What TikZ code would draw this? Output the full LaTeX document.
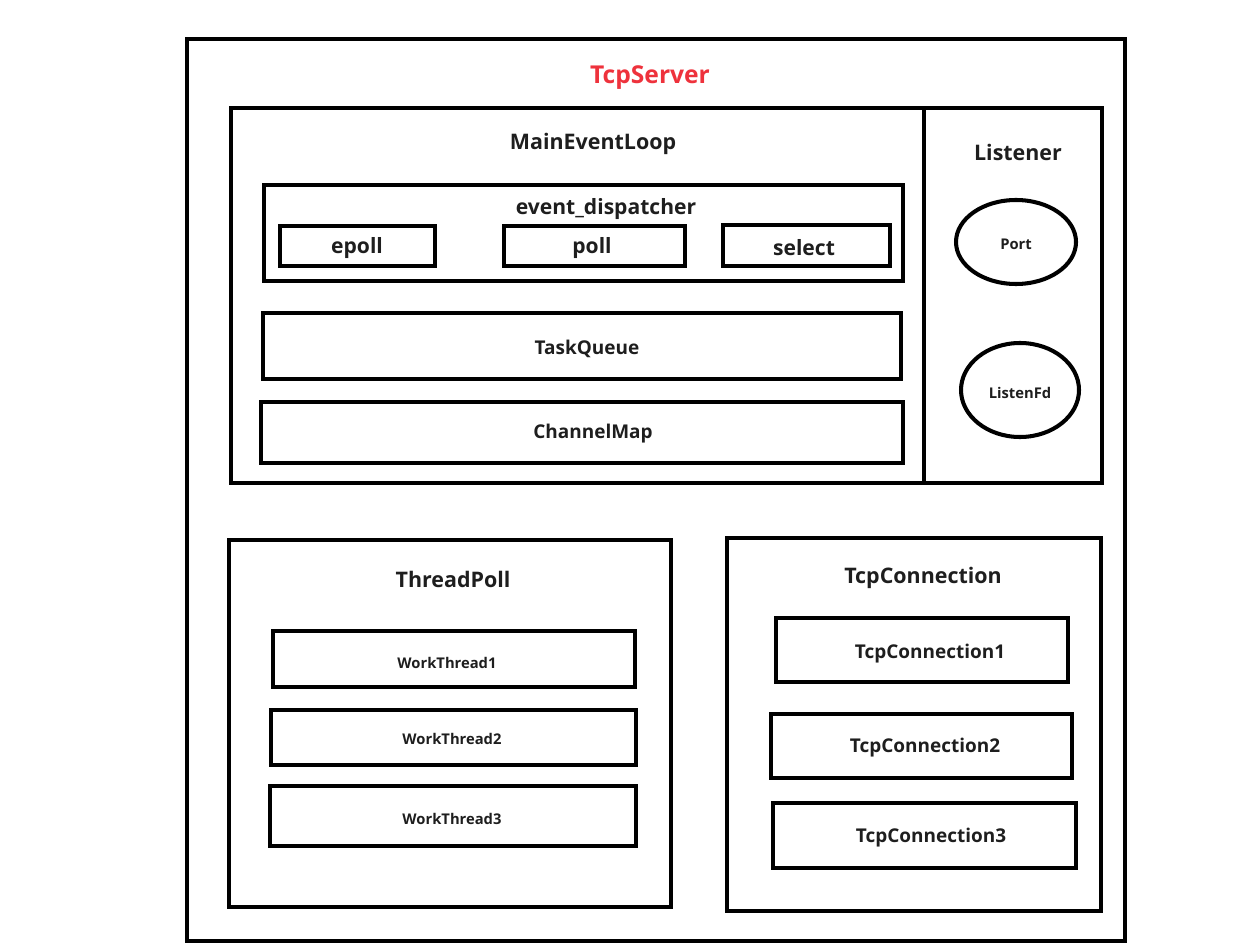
\documentclass[tikz,border=0pt]{standalone}
\usepackage{fontspec}
\setmainfont{Open Sans}
\definecolor{srvred}{RGB}{238,50,60}
\definecolor{ink}{RGB}{30,30,30}

\tikzset{
  box/.style={line width=2.3pt},
  title/.style={font=\bfseries\fontsize{12.2}{14}\selectfont, text=ink},
  item/.style={font=\bfseries\fontsize{12}{14}\selectfont, text=ink},
  small/.style={font=\bfseries\fontsize{10.8}{12}\selectfont, text=ink},
  tiny/.style={font=\bfseries\fontsize{8.4}{10}\selectfont, text=ink},
  every node/.style={yshift=-0.055cm}
}

\begin{document}
\begin{tikzpicture}[x=0.02cm, y=-0.02cm]
\useasboundingbox (0,0) rectangle (1260,949);
% outer frame
\draw[box] (187,39) rectangle (1125,941);
\node[title, text=srvred, font=\bfseries\fontsize{14}{16}\selectfont] (server) at (650,75) {TcpServer};

% main loop and listener
\draw[box] (231,108) rectangle (1102,483);
\draw[box] (924,108) -- (924,483);
\node[title] (mainloop) at (593,141) {MainEventLoop};
\node[title] (listener) at (1018,150) {Listener};

\draw[box] (264,185) rectangle (903,281);
\node[item] (dispatch) at (606,206) {event\_dispatcher};
\draw[box] (280,226) rectangle (435,266);
\node[item] (epoll) at (357,245) {epoll};
\draw[box] (504,226) rectangle (685,266);
\node[item] (poll) at (592,245) {poll};
\draw[box] (723,225) rectangle (890,266);
\node[item] (select) at (804,245) {select};

\draw[box] (263,313) rectangle (901,379);
\node[small] (taskq) at (587,346) {TaskQueue};
\draw[box] (261,402) rectangle (903,463);
\node[small] (chmap) at (593,431) {ChannelMap};

\draw[box] (1016,242) ellipse (60 and 42);
\node[tiny] (port) at (1016,242) {Port};
\draw[box] (1020,390) ellipse (59 and 47);
\node[tiny] (lfd) at (1020,390) {ListenFd};

% thread pool
\draw[box] (229,540) rectangle (671,907);
\node[title] (pool) at (453,577) {ThreadPoll};
\draw[box] (273,631) rectangle (635,687);
\node[tiny] (wt1) at (447,660) {WorkThread1};
\draw[box] (271,710) rectangle (636,765);
\node[tiny] (wt2) at (452,736) {WorkThread2};
\draw[box] (270,786) rectangle (636,846);
\node[tiny] (wt3) at (452,816) {WorkThread3};

% connections
\draw[box] (727,538) rectangle (1101,911);
\node[title] (conns) at (923,575) {TcpConnection};
\draw[box] (776,618) rectangle (1068,682);
\node[small] (conn1) at (930,651) {TcpConnection1};
\draw[box] (771,714) rectangle (1072,778);
\node[small] (conn2) at (925,745) {TcpConnection2};
\draw[box] (773,803) rectangle (1076,868);
\node[small] (conn3) at (931,835) {TcpConnection3};
\end{tikzpicture}
\end{document}
